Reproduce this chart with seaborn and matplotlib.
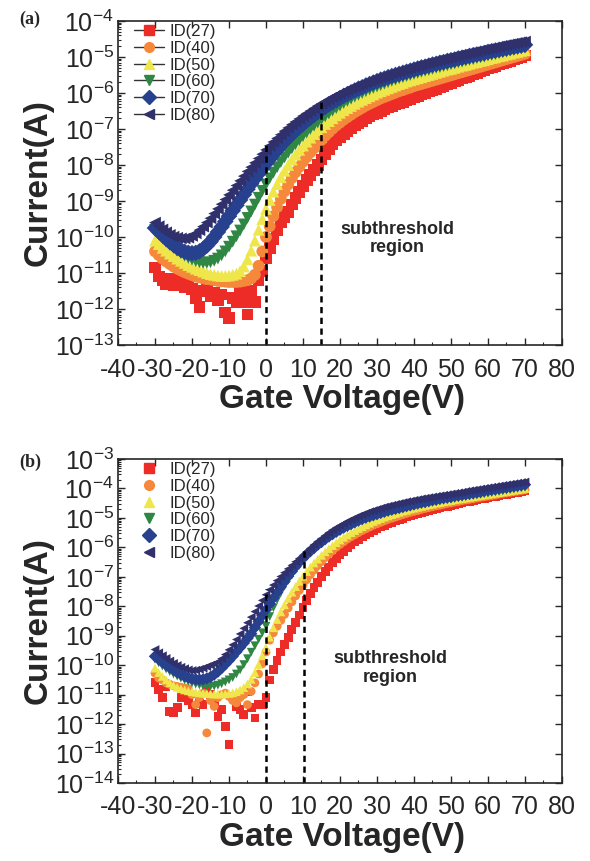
import numpy as np
import pandas as pd
import matplotlib
matplotlib.use("Agg")
import matplotlib.pyplot as plt
import seaborn as sns
from matplotlib import font_manager
from matplotlib.lines import Line2D
from matplotlib.ticker import LogLocator, MultipleLocator, FuncFormatter, NullFormatter

# gate sweep, 1 V steps
gate_v = np.arange(-30, 71)

series_names = ["ID(27)", "ID(40)", "ID(50)", "ID(60)", "ID(70)", "ID(80)"]
series_colors = ["#ED2B27", "#F5883A", "#EEE64A", "#2F8743", "#27418F", "#2F306C"]
series_markers = ["s", "o", "^", "v", "D", "<"]

# log10 of drain current (A), panel (a)
log_id_a_27 = [-10.85, -11.1, -11.2, -11.3, -11.15, -11.35, -11.3, -11.2, -11.4, -11.3,
               -11.45, -11.7, -11.95, -11.5, -11.4, -11.65, -11.55, -11.75, -11.6, -12.1,
               -12.25, -11.7, -11.8, -11.5, -11.8, -12.15, -11.5, -11.8, -11.2, -10.95,
               -10.6, -10.3, -10.05, -9.8, -9.6, -9.45, -9.3, -9.1, -8.92, -8.75,
               -8.58, -8.42, -8.28, -8.14, -8.0, -7.85, -7.7, -7.56, -7.43, -7.32,
               -7.22, -7.13, -7.05, -6.97, -6.9, -6.83, -6.77, -6.71, -6.65, -6.6,
               -6.55, -6.5, -6.45, -6.4, -6.36, -6.32, -6.28, -6.24, -6.2, -6.16,
               -6.12, -6.08, -6.04, -6.0, -5.96, -5.92, -5.88, -5.84, -5.8, -5.76,
               -5.72, -5.68, -5.64, -5.6, -5.56, -5.52, -5.48, -5.44, -5.4, -5.36,
               -5.32, -5.28, -5.24, -5.2, -5.16, -5.13, -5.1, -5.07, -5.03, -5.0,
               -4.96]
log_id_a_40 = [-10.4, -10.5, -10.6, -10.68, -10.75, -10.82, -10.88, -10.93, -10.98, -11.02,
               -11.06, -11.1, -11.12, -11.15, -11.17, -11.18, -11.2, -11.22, -11.23, -11.24,
               -11.25, -11.25, -11.25, -11.24, -11.22, -11.2, -11.15, -11.05, -10.8, -10.4,
               -10.0, -9.7, -9.42, -9.17, -8.94, -8.73, -8.54, -8.36, -8.2, -8.05,
               -7.91, -7.78, -7.65, -7.53, -7.41, -7.3, -7.19, -7.09, -6.99, -6.9,
               -6.82, -6.74, -6.67, -6.6, -6.53, -6.47, -6.41, -6.35, -6.3, -6.25,
               -6.2, -6.15, -6.11, -6.07, -6.03, -5.99, -5.95, -5.92, -5.88, -5.85,
               -5.81, -5.78, -5.75, -5.72, -5.69, -5.66, -5.63, -5.6, -5.57, -5.54,
               -5.51, -5.48, -5.45, -5.42, -5.39, -5.36, -5.33, -5.3, -5.27, -5.24,
               -5.21, -5.18, -5.15, -5.12, -5.09, -5.06, -5.03, -5.0, -4.97, -4.94,
               -4.91]
log_id_a_50 = [-10.1, -10.2, -10.3, -10.38, -10.46, -10.53, -10.6, -10.66, -10.72, -10.78,
               -10.83, -10.88, -10.92, -10.96, -11.0, -11.03, -11.05, -11.07, -11.08, -11.08,
               -11.07, -11.05, -11.02, -10.95, -10.82, -10.62, -10.38, -10.1, -9.8, -9.5,
               -9.22, -8.97, -8.74, -8.53, -8.34, -8.16, -8.0, -7.85, -7.71, -7.58,
               -7.46, -7.35, -7.24, -7.14, -7.04, -6.95, -6.86, -6.78, -6.7, -6.62,
               -6.55, -6.48, -6.42, -6.36, -6.3, -6.24, -6.19, -6.14, -6.09, -6.04,
               -5.99, -5.95, -5.91, -5.87, -5.83, -5.79, -5.75, -5.72, -5.68, -5.65,
               -5.62, -5.59, -5.56, -5.53, -5.5, -5.47, -5.44, -5.41, -5.38, -5.35,
               -5.33, -5.3, -5.27, -5.24, -5.22, -5.19, -5.16, -5.14, -5.11, -5.09,
               -5.06, -5.03, -5.01, -4.98, -4.96, -4.93, -4.91, -4.88, -4.86, -4.83,
               -4.81]
log_id_a_60 = [-9.8, -9.92, -10.03, -10.13, -10.22, -10.3, -10.38, -10.45, -10.52, -10.58,
               -10.63, -10.67, -10.7, -10.72, -10.72, -10.7, -10.66, -10.6, -10.51, -10.4,
               -10.27, -10.13, -9.98, -9.82, -9.65, -9.47, -9.29, -9.1, -8.91, -8.72,
               -8.54, -8.37, -8.21, -8.06, -7.92, -7.79, -7.66, -7.54, -7.42, -7.31,
               -7.2, -7.1, -7.0, -6.91, -6.82, -6.73, -6.65, -6.57, -6.49, -6.42,
               -6.35, -6.28, -6.22, -6.16, -6.1, -6.05, -6.0, -5.95, -5.9, -5.86,
               -5.82, -5.78, -5.74, -5.7, -5.66, -5.63, -5.59, -5.56, -5.53, -5.5,
               -5.47, -5.44, -5.41, -5.38, -5.36, -5.33, -5.3, -5.28, -5.25, -5.23,
               -5.2, -5.18, -5.15, -5.13, -5.1, -5.08, -5.06, -5.03, -5.01, -4.99,
               -4.96, -4.94, -4.92, -4.89, -4.87, -4.85, -4.82, -4.8, -4.78, -4.76,
               -4.73]
log_id_a_70 = [-9.75, -9.85, -9.95, -10.05, -10.14, -10.22, -10.3, -10.36, -10.41, -10.44,
               -10.45, -10.44, -10.4, -10.33, -10.24, -10.13, -10.0, -9.86, -9.72, -9.57,
               -9.42, -9.27, -9.12, -8.97, -8.82, -8.67, -8.52, -8.38, -8.24, -8.1,
               -7.96, -7.83, -7.7, -7.58, -7.46, -7.35, -7.24, -7.14, -7.04, -6.95,
               -6.86, -6.77, -6.69, -6.61, -6.53, -6.46, -6.39, -6.32, -6.26, -6.2,
               -6.14, -6.08, -6.03, -5.98, -5.93, -5.88, -5.84, -5.79, -5.75, -5.71,
               -5.67, -5.63, -5.6, -5.56, -5.53, -5.5, -5.47, -5.44, -5.41, -5.38,
               -5.35, -5.32, -5.29, -5.27, -5.24, -5.21, -5.19, -5.16, -5.14, -5.11,
               -5.09, -5.07, -5.04, -5.02, -5.0, -4.97, -4.95, -4.93, -4.91, -4.89,
               -4.86, -4.84, -4.82, -4.8, -4.78, -4.76, -4.74, -4.72, -4.7, -4.68,
               -4.66]
log_id_a_80 = [-9.6, -9.7, -9.79, -9.87, -9.94, -9.99, -10.02, -10.04, -10.04, -10.02,
               -9.97, -9.9, -9.81, -9.71, -9.6, -9.48, -9.35, -9.22, -9.09, -8.96,
               -8.83, -8.7, -8.57, -8.44, -8.31, -8.18, -8.06, -7.94, -7.82, -7.7,
               -7.58, -7.47, -7.36, -7.26, -7.16, -7.06, -6.97, -6.88, -6.8, -6.72,
               -6.64, -6.57, -6.5, -6.43, -6.36, -6.3, -6.24, -6.18, -6.12, -6.07,
               -6.02, -5.97, -5.92, -5.87, -5.83, -5.79, -5.75, -5.71, -5.67, -5.63,
               -5.6, -5.56, -5.53, -5.5, -5.46, -5.43, -5.4, -5.37, -5.34, -5.31,
               -5.28, -5.25, -5.22, -5.19, -5.17, -5.14, -5.11, -5.09, -5.06, -5.04,
               -5.01, -4.99, -4.96, -4.94, -4.92, -4.89, -4.87, -4.85, -4.82, -4.8,
               -4.78, -4.76, -4.74, -4.71, -4.69, -4.67, -4.65, -4.63, -4.61, -4.59,
               -4.57]

# log10 of drain current (A), panel (b)
log_id_b_27 = [-10.6, -10.83, -11.1, -10.72, -11.57, -11.62, -11.45, -11.11, -11.11, -11.2,
               -11.35, -11.62, -11.3, -11.34, -10.83, -11.0, -11.3, -11.73, -11.5, -12.07,
               -12.7, -11.06, -11.4, -11.5, -11.68, -10.89, -11.45, -11.79, -11.34, -11.34,
               -11.1, -10.5, -10.15, -9.85, -9.55, -9.3, -9.05, -8.8, -8.55, -8.3,
               -8.05, -7.8, -7.57, -7.37, -7.18, -7.0, -6.83, -6.67, -6.52, -6.38,
               -6.25, -6.13, -6.02, -5.92, -5.82, -5.73, -5.65, -5.57, -5.5, -5.43,
               -5.37, -5.31, -5.25, -5.2, -5.15, -5.1, -5.05, -5.01, -4.97, -4.93,
               -4.89, -4.85, -4.82, -4.78, -4.75, -4.72, -4.69, -4.66, -4.63, -4.6,
               -4.57, -4.54, -4.52, -4.49, -4.46, -4.44, -4.41, -4.39, -4.36, -4.34,
               -4.31, -4.29, -4.27, -4.24, -4.22, -4.2, -4.17, -4.15, -4.13, -4.11,
               -4.08]
log_id_b_40 = [-10.27, -10.44, -10.5, -10.6, -10.65, -10.7, -10.72, -10.75, -10.77, -10.8,
               -11.0, -11.34, -11.1, -10.95, -12.3, -11.2, -11.4, -11.1, -11.0, -10.95,
               -11.06, -11.2, -11.28, -11.1, -11.0, -11.34, -10.89, -10.6, -10.3, -9.95,
               -9.55, -9.15, -8.9, -8.68, -8.48, -8.28, -8.06, -7.85, -7.65, -7.46,
               -7.28, -7.1, -6.93, -6.77, -6.62, -6.48, -6.35, -6.23, -6.11, -6.0,
               -5.9, -5.81, -5.72, -5.64, -5.57, -5.5, -5.43, -5.37, -5.31, -5.25,
               -5.2, -5.15, -5.1, -5.05, -5.01, -4.97, -4.93, -4.89, -4.85, -4.81,
               -4.78, -4.75, -4.71, -4.68, -4.65, -4.62, -4.59, -4.57, -4.54, -4.51,
               -4.49, -4.46, -4.44, -4.41, -4.39, -4.37, -4.35, -4.32, -4.3, -4.28,
               -4.26, -4.24, -4.22, -4.19, -4.17, -4.15, -4.13, -4.11, -4.09, -4.07,
               -4.05]
log_id_b_50 = [-10.1, -10.25, -10.38, -10.5, -10.6, -10.68, -10.75, -10.8, -10.84, -10.87,
               -10.9, -10.92, -10.94, -10.95, -10.96, -10.97, -10.98, -10.98, -10.98, -10.97,
               -10.96, -10.94, -10.9, -10.84, -10.76, -10.64, -10.48, -10.25, -9.98, -9.68,
               -9.4, -9.05, -8.73, -8.45, -8.19, -7.95, -7.73, -7.52, -7.33, -7.15,
               -6.98, -6.82, -6.67, -6.53, -6.4, -6.27, -6.15, -6.04, -5.94, -5.84,
               -5.75, -5.66, -5.58, -5.5, -5.43, -5.36, -5.3, -5.24, -5.18, -5.12,
               -5.07, -5.02, -4.97, -4.93, -4.89, -4.85, -4.81, -4.77, -4.74, -4.7,
               -4.67, -4.64, -4.61, -4.58, -4.55, -4.53, -4.5, -4.48, -4.45, -4.43,
               -4.41, -4.38, -4.36, -4.34, -4.32, -4.3, -4.28, -4.26, -4.24, -4.22,
               -4.2, -4.18, -4.16, -4.14, -4.12, -4.1, -4.08, -4.06, -4.04, -4.02,
               -4.0]
log_id_b_60 = [-9.8, -9.92, -10.03, -10.13, -10.22, -10.3, -10.37, -10.44, -10.5, -10.55,
               -10.6, -10.64, -10.67, -10.7, -10.71, -10.72, -10.71, -10.68, -10.63, -10.57,
               -10.5, -10.42, -10.3, -10.16, -9.98, -9.78, -9.56, -9.34, -9.12, -8.9,
               -8.68, -8.35, -8.05, -7.78, -7.54, -7.32, -7.12, -6.94, -6.77, -6.61,
               -6.46, -6.32, -6.19, -6.07, -5.96, -5.86, -5.76, -5.67, -5.59, -5.51,
               -5.44, -5.37, -5.31, -5.25, -5.19, -5.14, -5.09, -5.04, -5.0, -4.96,
               -4.92, -4.88, -4.84, -4.81, -4.77, -4.74, -4.71, -4.68, -4.65, -4.62,
               -4.59, -4.57, -4.54, -4.52, -4.49, -4.47, -4.45, -4.42, -4.4, -4.38,
               -4.36, -4.34, -4.32, -4.3, -4.28, -4.26, -4.24, -4.22, -4.2, -4.18,
               -4.16, -4.14, -4.12, -4.1, -4.08, -4.06, -4.04, -4.02, -4.0, -3.98,
               -3.96]
log_id_b_70 = [-9.7, -9.8, -9.9, -9.99, -10.08, -10.16, -10.24, -10.31, -10.37, -10.42,
               -10.46, -10.48, -10.49, -10.48, -10.45, -10.4, -10.32, -10.22, -10.1, -9.97,
               -9.84, -9.7, -9.55, -9.4, -9.25, -9.09, -8.93, -8.72, -8.52, -8.32,
               -8.12, -7.92, -7.72, -7.53, -7.34, -7.16, -6.98, -6.81, -6.65, -6.5,
               -6.37, -6.24, -6.13, -6.02, -5.91, -5.82, -5.72, -5.63, -5.55, -5.47,
               -5.4, -5.33, -5.27, -5.21, -5.15, -5.09, -5.04, -4.99, -4.95, -4.91,
               -4.87, -4.83, -4.79, -4.75, -4.72, -4.69, -4.66, -4.63, -4.6, -4.57,
               -4.54, -4.51, -4.48, -4.46, -4.43, -4.4, -4.38, -4.35, -4.33, -4.31,
               -4.29, -4.26, -4.24, -4.22, -4.2, -4.18, -4.16, -4.14, -4.12, -4.09,
               -4.07, -4.05, -4.03, -4.01, -3.99, -3.97, -3.95, -3.93, -3.91, -3.89,
               -3.87]
log_id_b_80 = [-9.47, -9.58, -9.68, -9.77, -9.86, -9.94, -10.01, -10.07, -10.12, -10.16,
               -10.18, -10.17, -10.14, -10.1, -10.05, -10.0, -9.95, -9.89, -9.78, -9.64,
               -9.48, -9.31, -9.13, -8.94, -8.75, -8.56, -8.37, -8.18, -7.99, -7.8,
               -7.61, -7.44, -7.28, -7.13, -6.99, -6.86, -6.73, -6.61, -6.49, -6.38,
               -6.27, -6.15, -6.03, -5.91, -5.8, -5.7, -5.6, -5.5, -5.41, -5.33,
               -5.26, -5.19, -5.12, -5.06, -5.0, -4.94, -4.89, -4.84, -4.79, -4.75,
               -4.71, -4.67, -4.63, -4.6, -4.57, -4.54, -4.51, -4.48, -4.45, -4.43,
               -4.4, -4.38, -4.35, -4.33, -4.31, -4.29, -4.27, -4.25, -4.23, -4.21,
               -4.19, -4.17, -4.15, -4.13, -4.1, -4.08, -4.06, -4.04, -4.02, -4.0,
               -3.98, -3.96, -3.94, -3.92, -3.9, -3.88, -3.86, -3.84, -3.82, -3.8,
               -3.78]

curves_a = [log_id_a_27, log_id_a_40, log_id_a_50, log_id_a_60, log_id_a_70, log_id_a_80]
curves_b = [log_id_b_27, log_id_b_40, log_id_b_50, log_id_b_60, log_id_b_70, log_id_b_80]

# dashed guides bounding the subthreshold region
guide_a_x = [0, 15]
guide_a_top = [3.6e-8, 7.2e-7]
guide_b_x = [0, 10.3]
guide_b_top = [4.0e-8, 8.9e-7]

sns.set_style("ticks")
avail = {f.name for f in font_manager.fontManager.ttflist}
narrow = "Liberation Sans Narrow" in avail
label_font = "Liberation Sans Narrow" if narrow else "Liberation Sans"
label_size = 28 if narrow else 24
plt.rcParams["font.family"] = ["Liberation Sans", "DejaVu Sans"]
plt.rcParams["axes.unicode_minus"] = False
plt.rcParams["mathtext.fontset"] = "custom"
plt.rcParams["mathtext.rm"] = "Liberation Sans"


def long_frame(curves):
    parts = []
    for name, vals in zip(series_names, curves):
        parts.append(pd.DataFrame({"Vg": gate_v, "ID": 10.0 ** np.asarray(vals), "series": name}))
    return pd.concat(parts, ignore_index=True)


def draw_panel(ax, curves, size, ylim, gx, gtop, note_xy, legend_line):
    df = long_frame(curves)
    sns.scatterplot(data=df, x="Vg", y="ID", hue="series", style="series",
                    hue_order=series_names, style_order=series_names,
                    palette=series_colors, markers=dict(zip(series_names, series_markers)),
                    s=size, linewidth=0, edgecolor="none", legend=False, ax=ax)
    ax.set_yscale("log")
    ax.set_ylim(*ylim)
    ax.set_xlim(-40, 80)
    ax.vlines(gx, ylim[0], gtop, colors="black", linestyles=(0, (2.5, 1.8)), linewidth=1.8)

    ax.xaxis.set_major_locator(MultipleLocator(10))
    ax.xaxis.set_minor_locator(MultipleLocator(5))
    ax.yaxis.set_major_locator(LogLocator(base=10, numticks=20))
    ax.yaxis.set_minor_locator(LogLocator(base=10, subs=np.arange(2, 10), numticks=20))
    ax.yaxis.set_minor_formatter(NullFormatter())
    ax.yaxis.set_major_formatter(FuncFormatter(
        lambda v, p: r"$\mathregular{10^{%d}}$" % int(round(np.log10(v)))))
    ax.tick_params(which="major", direction="in", length=5, width=1, labelsize=18,
                   pad=3, top=True, right=True)
    ax.tick_params(axis="x", which="major", pad=9)
    ax.tick_params(which="minor", direction="in", length=2.5, width=0.8,
                   top=False, right=False)
    for sp in ax.spines.values():
        sp.set_linewidth(1.2)

    ax.set_xlabel("Gate Voltage(V)", fontsize=label_size, fontweight="bold", family=label_font)
    ax.set_ylabel("Current(A)", fontsize=label_size, fontweight="bold", family=label_font)
    ax.xaxis.set_label_coords(0.505, -0.12)
    ax.yaxis.set_label_coords(-0.145, 0.5)

    ax.text(note_xy[0], note_xy[1], "subthreshold\nregion", ha="center", va="center",
            fontsize=13, fontweight="bold", linespacing=1.1)

    handles = [Line2D([], [], color="#333333" if legend_line else c,
                      linestyle="-" if legend_line else "none", linewidth=1,
                      marker=m, markerfacecolor=c, markeredgecolor=c, markersize=7)
               for c, m in zip(series_colors, series_markers)]
    ax.legend(handles, series_names, loc="upper left", bbox_to_anchor=(0.035, 0.99),
              frameon=False, fontsize=12, handlelength=1.8, handletextpad=0.35,
              labelspacing=0.1, borderpad=0, borderaxespad=0)


fig = plt.figure(figsize=(5.9, 8.61), dpi=100)
ax_a = fig.add_axes([0.2, 0.5993, 0.7525, 0.3763])
ax_b = fig.add_axes([0.2, 0.0906, 0.7525, 0.3763])

draw_panel(ax_a, curves_a, 72, (1e-13, 1e-4), guide_a_x, guide_a_top, (35.5, 9e-11), True)
draw_panel(ax_b, curves_b, 40, (1e-14, 1e-3), guide_b_x, guide_b_top, (33.5, 8e-11), False)

fig.text(0.051, 0.978, "(a)", family="Liberation Serif", fontweight="bold", fontsize=13,
         ha="center", va="center")
fig.text(0.051, 0.463, "(b)", family="Liberation Serif", fontweight="bold", fontsize=13,
         ha="center", va="center")

fig.savefig("out.png", dpi=100)
